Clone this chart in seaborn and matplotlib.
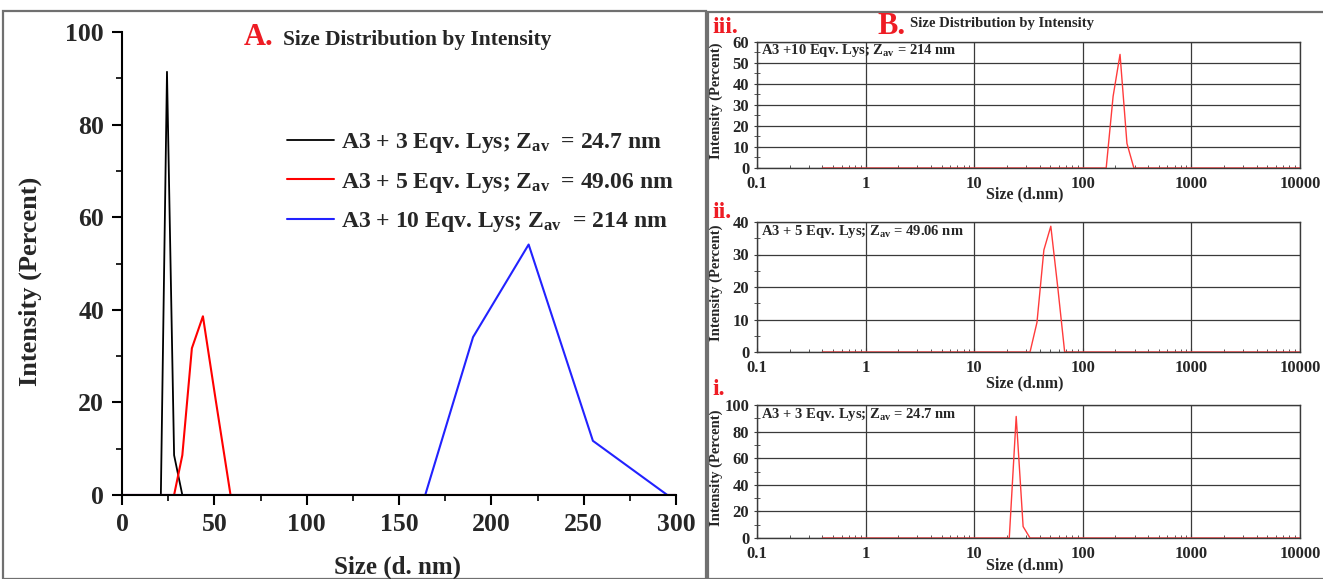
import numpy as np
import pandas as pd
import seaborn as sns
import matplotlib
matplotlib.use('Agg')
import matplotlib.pyplot as plt
from matplotlib.ticker import MultipleLocator, AutoMinorLocator, FixedLocator, LogLocator, NullFormatter
from matplotlib.patches import Rectangle

# DLS size bins (d.nm) and intensities (%)
size_3eq = [0.4, 21.04, 24.36, 28.21, 32.67, 10000]
int_3eq = [0, 0, 91.4, 8.6, 0, 0]

size_5eq = [0.4, 28.21, 32.67, 37.84, 43.82, 50.75, 58.77, 10000]
int_5eq = [0, 0, 8.6, 31.7, 38.6, 20.5, 0, 0]

size_10eq = [0.4, 164.2, 190.1, 220.2, 255.0, 295.3, 10000]
int_10eq = [0, 0, 34.1, 54.1, 11.7, 0, 0]

# in panel B.ii the 5 eqv. curve sits one bin further right
size_5eq_log = [0.4, 32.67, 37.84, 43.82, 50.75, 58.77, 68.06, 10000]
int_5eq_log = [0, 0, 9.1, 31.4, 38.7, 20.0, 0, 0]

labels = ['A3 + 3 Eqv. Lys; Z$_{\\mathrm{av}}$  = 24.7 nm',
          'A3 + 5 Eqv. Lys; Z$_{\\mathrm{av}}$  = 49.06 nm',
          'A3 + 10 Eqv. Lys; Z$_{\\mathrm{av}}$  = 214 nm']
short_labels = ['A3 +10 Eqv. Lys; Z$_{\\mathrm{av}}$ = 214 nm',
                'A3 + 5 Eqv. Lys; Z$_{\\mathrm{av}}$ = 49.06 nm',
                'A3 + 3 Eqv. Lys; Z$_{\\mathrm{av}}$ = 24.7 nm']
panel_tags = ['iii.', 'ii.', 'i.']
log_ticks = [0.1, 1, 10, 100, 1000, 10000]
log_ticklabels = ['0.1', '1', '10', '100', '1000', '10000']

sns.set_style('ticks')
plt.rcParams['font.family'] = ['Liberation Serif', 'DejaVu Serif']
plt.rcParams['font.weight'] = 'bold'
plt.rcParams['mathtext.fontset'] = 'custom'
plt.rcParams['mathtext.rm'] = 'Liberation Serif:bold'
plt.rcParams['mathtext.it'] = 'Liberation Serif:bold'
plt.rcParams['mathtext.bf'] = 'Liberation Serif:bold'

W, H = 1323, 579


def fx(x):
    return x / W


def fy(y):
    return 1 - y / H


fig = plt.figure(figsize=(W / 100, H / 100), dpi=100)
fig.patch.set_facecolor('white')

# panel frames
fig.add_artist(Rectangle((fx(3), 0), fx(703), fy(11), transform=fig.transFigure,
                         fill=False, edgecolor='#707070', linewidth=1.6))
fig.add_artist(Rectangle((fx(708), 0), fx(620), fy(12), transform=fig.transFigure,
                         fill=False, edgecolor='#707070', linewidth=1.6))

# ---------------- panel A ----------------
axA = fig.add_axes([fx(122), fy(495), fx(676 - 122), fy(32) - fy(495)])
sns.lineplot(x=size_3eq, y=int_3eq, color='black', lw=1.3, sort=False, estimator=None,
             label=labels[0], ax=axA)
sns.lineplot(x=size_5eq, y=int_5eq, color='#ff0000', lw=1.5, sort=False, estimator=None,
             label=labels[1], ax=axA)
sns.lineplot(x=size_10eq, y=int_10eq, color='#2222ff', lw=1.5, sort=False, estimator=None,
             label=labels[2], ax=axA)
axA.set_xlim(0, 300)
axA.set_ylim(0, 100)
axA.xaxis.set_major_locator(MultipleLocator(50))
axA.xaxis.set_minor_locator(AutoMinorLocator(2))
axA.yaxis.set_major_locator(MultipleLocator(20))
axA.yaxis.set_minor_locator(AutoMinorLocator(2))
axA.spines['top'].set_visible(False)
axA.spines['right'].set_visible(False)
for s in ['left', 'bottom']:
    axA.spines[s].set_linewidth(1.5)
    axA.spines[s].set_color('black')
axA.tick_params(which='major', length=7, width=1.5, labelsize=18.5, pad=6, color='black')
axA.tick_params(which='minor', length=4, width=1.2, color='black')
for t in axA.get_xticklabels() + axA.get_yticklabels():
    t.set_fontweight('bold')
axA.set_xlabel('')
axA.set_ylabel('')
axA.legend(loc='upper left', bbox_to_anchor=(fx(287), fy(131)), bbox_transform=fig.transFigure,
           frameon=False, fontsize=17, handlelength=2.0, handletextpad=0.3,
           labelspacing=0.66, borderpad=0, borderaxespad=0)

fig.text(fx(30), fy(281), 'Intensity (Percent)', rotation=90, ha='center', va='center',
         fontsize=19, fontweight='bold')
fig.text(fx(398), fy(567), 'Size (d. nm)', ha='center', va='center', fontsize=18, fontweight='bold')
fig.text(fx(244), fy(45), 'A.', color='#ee1c24', fontsize=22, fontweight='bold', va='baseline')
fig.text(fx(283), fy(45), 'Size Distribution by Intensity', fontsize=15.5, fontweight='bold',
         va='baseline')

# ---------------- panel B ----------------
fig.text(fx(877), fy(34), 'B.', color='#ee1c24', fontsize=22, fontweight='bold', va='baseline')
fig.text(fx(910), fy(27), 'Size Distribution by Intensity', fontsize=10.5, fontweight='bold',
         va='baseline')

boxes = [(42, 168), (222, 352), (405, 538)]
ymaxes = [60, 40, 100]
ysteps = [10, 10, 20]
curves = [(size_10eq, int_10eq), (size_5eq_log, int_5eq_log), (size_3eq, int_3eq)]
tag_y = [33, 218, 395]
xlab_y = [194, 383, 565]

for i in range(3):
    top, bot = boxes[i]
    ax = fig.add_axes([fx(757), fy(bot), fx(1300 - 757), fy(top) - fy(bot)])
    xs, ys = curves[i]
    sns.lineplot(x=xs, y=ys, color='#ff3b3b', lw=1.0, sort=False, estimator=None, ax=ax)
    ax.set_xscale('log')
    ax.set_xlim(0.1, 10000)
    ax.set_ylim(0, ymaxes[i])
    ax.xaxis.set_major_locator(FixedLocator(log_ticks))
    ax.set_xticklabels(log_ticklabels)
    ax.xaxis.set_minor_locator(LogLocator(base=10, subs=np.arange(2, 10)))
    ax.xaxis.set_minor_formatter(NullFormatter())
    ax.yaxis.set_major_locator(MultipleLocator(ysteps[i]))
    ax.yaxis.set_minor_locator(AutoMinorLocator(2))
    ax.grid(True, which='major', color='#3a3a3a', lw=0.9)
    for s in ax.spines.values():
        s.set_color('#3a3a3a')
        s.set_linewidth(1.0)
    ax.tick_params(axis='x', which='major', direction='in', length=3, labelsize=12, pad=5.5,
                   color='#3a3a3a')
    ax.tick_params(axis='x', which='minor', direction='in', length=2.5, color='#3a3a3a')
    ax.tick_params(axis='y', which='major', direction='inout', length=5, labelsize=12, pad=3,
                   color='#3a3a3a')
    ax.tick_params(axis='y', which='minor', direction='inout', length=4, color='#3a3a3a')
    for t in ax.get_xticklabels() + ax.get_yticklabels():
        t.set_fontweight('bold')
    ax.set_xlabel('')
    ax.set_ylabel('')
    ax.text(0.007, 0.93, short_labels[i], transform=ax.transAxes, ha='left', va='center',
            fontsize=10.5, fontweight='bold')
    fig.text(fx(716), fy((top + bot) / 2 - 4), 'Intensity (Percent)', rotation=90, ha='center',
             va='center', fontsize=10.5, fontweight='bold')
    fig.text(fx(1025), fy(xlab_y[i]), 'Size (d.nm)', ha='center', va='center', fontsize=11.5,
             fontweight='bold')
    fig.text(fx(712), fy(tag_y[i]), panel_tags[i], color='#ee1c24', fontsize=17,
             fontweight='bold', va='baseline')

plt.savefig('out.png', dpi=100)
